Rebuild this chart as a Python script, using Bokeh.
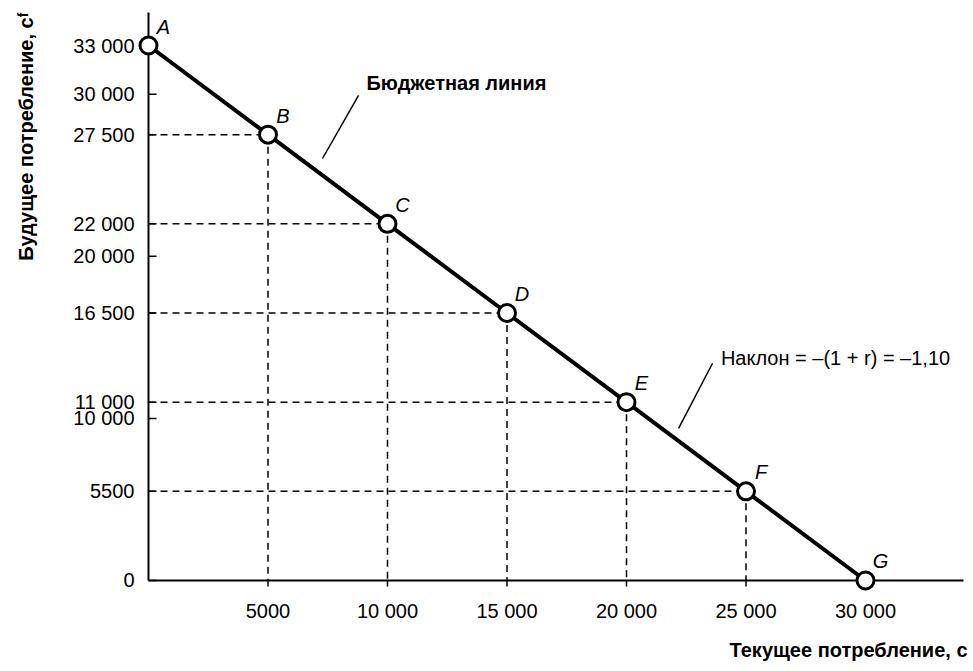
import math
from bokeh.plotting import figure
from bokeh.models import Range1d, FixedTicker, Title, Label
from bokeh.core.properties import value
from bokeh.embed import file_html
from bokeh.resources import INLINE

# ---- data ----
current = [0, 5000, 10000, 15000, 20000, 25000, 30000]
future = [33000, 27500, 22000, 16500, 11000, 5500, 0]
point_names = ["A", "B", "C", "D", "E", "F", "G"]

y_ticks = [0, 5500, 10000, 11000, 16500, 20000, 22000, 27500, 30000, 33000]
y_tick_labels = ["0", "5500", "10 000", "11 000", "16 500", "20 000",
                 "22 000", "27 500", "30 000", "33 000"]
x_ticks = [5000, 10000, 15000, 20000, 25000, 30000]
x_tick_labels = ["5000", "10 000", "15 000", "20 000", "25 000", "30 000"]

budget_label = "Бюджетная линия"
slope_label = "Наклон = –(1 + r) = –1,10"
x_title = "Текущее потребление, c"
y_title = "Будущее потребление, cᶠ"

# leader-line anchors (data coords)
budget_leader = ([7280, 8790], [26030, 29920])
slope_leader = ([22180, 23600], [9380, 13400])

FONT = "Liberation Sans"

p = figure(frame_width=826, frame_height=579,
           x_range=Range1d(-460, 34100), y_range=Range1d(-679, 35036),
           output_backend="svg", toolbar_location=None,
           min_border_left=137, min_border_top=12, min_border_right=8,
           min_border_bottom=0)
p.outline_line_color = None
p.grid.visible = False
p.background_fill_color = "white"

# axes (labels only; lines and ticks drawn from the origin below)
for ax in p.xaxis:
    ax.ticker = FixedTicker(ticks=x_ticks)
    ax.major_label_overrides = {t: l for t, l in zip(x_ticks, x_tick_labels)}
    ax.axis_line_color = None
    ax.major_tick_line_color = None
    ax.major_tick_in = 0
    ax.major_tick_out = 0
    ax.minor_tick_line_color = None
    ax.major_label_standoff = 8
    ax.major_label_text_font = FONT
    ax.major_label_text_font_size = "20px"
    ax.major_label_text_color = "black"
for ax in p.yaxis:
    ax.ticker = FixedTicker(ticks=y_ticks)
    ax.major_label_overrides = {t: l for t, l in zip(y_ticks, y_tick_labels)}
    ax.axis_line_color = None
    ax.major_tick_line_color = None
    ax.major_tick_in = 0
    ax.major_tick_out = 0
    ax.minor_tick_line_color = None
    ax.major_label_standoff = 3
    ax.major_label_text_font = FONT
    ax.major_label_text_font_size = "20px"
    ax.major_label_text_color = "black"
    # blank spacer label to push the axis title further left
    ax.axis_label = "\u00a0"
    ax.axis_label_standoff = 0
    ax.axis_label_text_font_size = "17px"

# axis lines from the origin
p.ray(x=[0], y=[0], length=0, angle=0, line_color="black", line_width=2)
p.ray(x=[0], y=[0], length=0, angle=math.pi / 2, line_color="black",
      line_width=2)
# tick marks
p.ray(x=[0] * len(y_ticks), y=y_ticks, length=8, length_units="screen",
      angle=0, line_color="black", line_width=1.5)
p.ray(x=x_ticks, y=[0] * len(x_ticks), length=6, length_units="screen",
      angle=-math.pi / 2, line_color="black", line_width=1.5)

# dashed guide lines for B..F
gx = current[1:-1]
gy = future[1:-1]
p.segment(x0=[0] * len(gx), y0=gy, x1=gx, y1=gy,
          line_color="black", line_width=1.5, line_dash="7 5")
p.segment(x0=gx, y0=gy, x1=gx, y1=[0] * len(gx),
          line_color="black", line_width=1.5, line_dash="7 5")

# budget line and points
p.line(current, future, line_color="black", line_width=4)
p.scatter(current, future, size=17, fill_color="white", line_color="black",
          line_width=3)
p.text(current, future, text=point_names, x_offset=15, y_offset=-19,
       text_font=value(FONT), text_font_style="italic",
       text_font_size="20px", text_align="center", text_baseline="middle",
       text_color="black")

# leader lines and annotations
p.line(budget_leader[0], budget_leader[1], line_color="black", line_width=1.5)
p.line(slope_leader[0], slope_leader[1], line_color="black", line_width=1.5)
p.add_layout(Label(x=9120, y=30660, text=budget_label, text_font=FONT,
                   text_font_style="bold", text_font_size="20px",
                   text_align="left", text_baseline="middle",
                   text_color="black"))
p.add_layout(Label(x=23950, y=13700, text=slope_label, text_font=FONT,
                   text_font_size="20px", text_align="left",
                   text_baseline="middle", text_color="black"))

# axis titles
p.add_layout(Title(text=x_title, align="right", text_font=FONT,
                   text_font_style="bold", text_font_size="20px",
                   text_color="black", standoff=24, offset=-4), "below")
p.add_layout(Title(text=y_title, align="right", text_font=FONT,
                   text_font_style="bold", text_font_size="20px",
                   text_color="black", standoff=23), "left")

open("out.html", "w").write(file_html(p, INLINE))
